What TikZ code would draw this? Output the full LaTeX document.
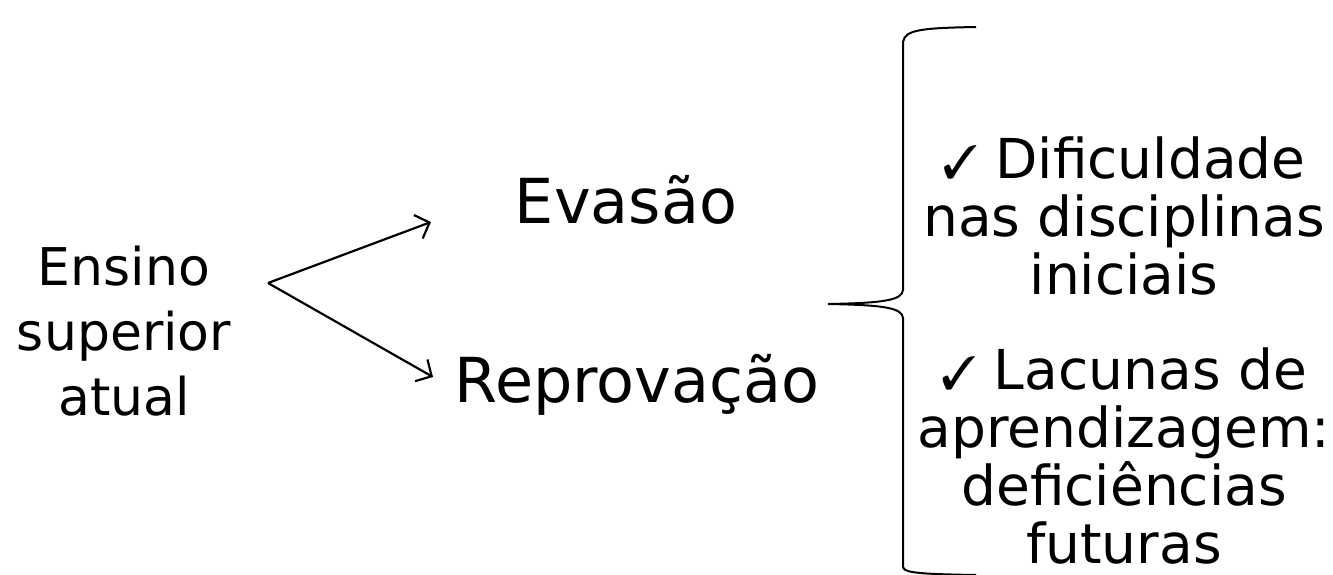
\documentclass[tikz,border=0pt]{standalone}
\usepackage{fontspec}
\setmainfont{DejaVu Sans}
\usepackage{pifont}
\usepackage{tikz}
\usetikzlibrary{arrows.meta}
\newcommand{\visto}{\scalebox{0.85}{\ding{51}}}
\tikzstyle{origem} = [align=center, inner sep=0pt, font=\fontsize{52}{65}\selectfont]
\tikzstyle{efeito} = [anchor=base, inner sep=0pt, font=\fontsize{62}{70}\selectfont]
\tikzstyle{causa} = [align=center, anchor=north, inner sep=0pt, font=\fontsize{55}{58}\selectfont]
\tikzstyle{seta} = [-{Straight Barb[length=12pt,width=25pt]}, line width=2.2pt]

\begin{document}
\begin{tikzpicture}[x=1pt, y=-1pt]
	\useasboundingbox (0,0) rectangle (1333,574);
	\node (ENSINO) [origem] at (124,331) {Ensino\\superior\\atual};
	\node (EVASAO) [efeito] at (626,223) {Evasão};
	\node (REPROVACAO) [efeito] at (637,402) {Reprovação};
	\node (CAUSA_A) [causa] at (1124,137) {\visto\ Dificuldade\\nas disciplinas\\iniciais};
	\node (CAUSA_B) [causa] at (1124,348) {\visto\ Lacunas de\\aprendizagem:\\deficiências\\futuras};
	\coordinate (FORK) at (268,283);
	\coordinate (EVASAO_IN) at (431,222);
	\coordinate (REPROVACAO_IN) at (433,377);
	\draw[seta](FORK)--(EVASAO_IN);
	\draw[seta](FORK)--(REPROVACAO_IN);
	% chave das causas
	\draw[line width=2pt] (976,27) .. controls (920,28) and (905,30) .. (903,42)
		-- (903,290) .. controls (902,300) and (885,303) .. (828,304)
		.. controls (885,305) and (902,308) .. (903,318)
		-- (903,566) .. controls (903,572) and (910,574) .. (976,575);
\end{tikzpicture}
\end{document}
